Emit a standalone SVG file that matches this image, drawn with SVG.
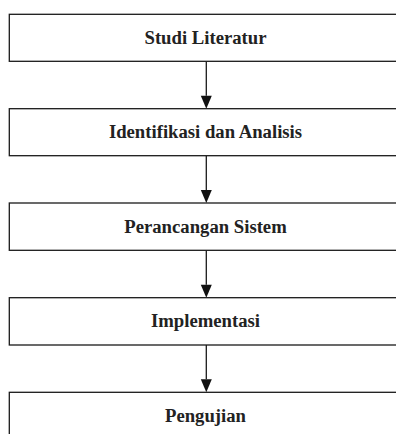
<svg xmlns="http://www.w3.org/2000/svg" width="396" height="434" viewBox="0 0 396 434">
<style>
.box{fill:#fff;stroke:#1a1a1a;stroke-width:1.3}
.lbl{font-family:"Liberation Serif","Times New Roman",serif;font-weight:bold;font-size:18.7px;fill:#222;text-anchor:middle}
.con{stroke:#1a1a1a;stroke-width:1.3;fill:none}
</style>
<rect width="396" height="434" fill="#fff"/>
<g id="connectors">
<line class="con" x1="206.3" y1="61.3" x2="206.3" y2="95.7"/>
<path d="M200.8,95.7 L211.8,95.7 L206.3,108.7 Z" fill="#111"/>
<line class="con" x1="206.3" y1="155.7" x2="206.3" y2="190"/>
<path d="M200.8,190 L211.8,190 L206.3,203 Z" fill="#111"/>
<line class="con" x1="206.3" y1="250.3" x2="206.3" y2="284.7"/>
<path d="M200.8,284.7 L211.8,284.7 L206.3,297.7 Z" fill="#111"/>
<line class="con" x1="206.3" y1="345" x2="206.3" y2="379.3"/>
<path d="M200.8,379.3 L211.8,379.3 L206.3,392.3 Z" fill="#111"/>
</g>
<g id="node1">
<rect class="box" x="9.3" y="14.3" width="410" height="47"/>
<text class="lbl" x="205.5" y="43.5">Studi Literatur</text>
</g>
<g id="node2">
<rect class="box" x="9.3" y="108.7" width="410" height="47"/>
<text class="lbl" x="205.5" y="138.2">Identifikasi dan Analisis</text>
</g>
<g id="node3">
<rect class="box" x="9.3" y="203" width="410" height="47.3"/>
<text class="lbl" x="205.5" y="232.6">Perancangan Sistem</text>
</g>
<g id="node4">
<rect class="box" x="9.3" y="297.7" width="410" height="47.3"/>
<text class="lbl" x="205.5" y="327.2">Implementasi</text>
</g>
<g id="node5">
<rect class="box" x="9.3" y="392.3" width="410" height="47"/>
<text class="lbl" x="205.5" y="421.8">Pengujian</text>
</g>
</svg>
